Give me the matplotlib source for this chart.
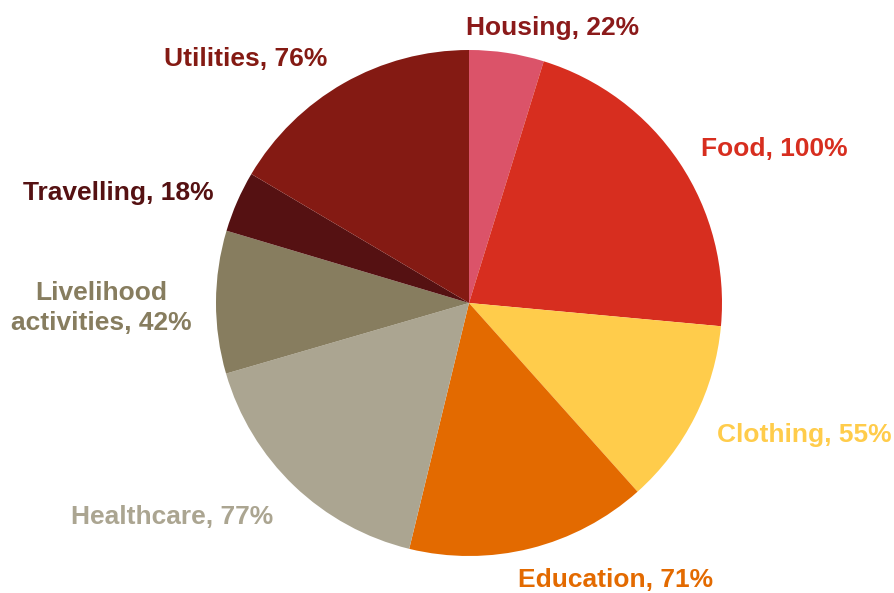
import numpy as np
import matplotlib
matplotlib.use("Agg")
import matplotlib.pyplot as plt
from matplotlib import rcParams

rcParams['font.family'] = ['Liberation Sans', 'DejaVu Sans']
rcParams['font.weight'] = 'bold'

categories = ['Housing', 'Food', 'Clothing', 'Education', 'Healthcare',
              'Livelihood\nactivities', 'Travelling', 'Utilities']
values = [22, 100, 55, 71, 77, 42, 18, 76]
colors = ['#DB5369', '#D72E1F', '#FFCC4B', '#E36A00', '#ABA591',
          '#877D5F', '#551112', '#841A13']
label_colors = ['#8B1A1A', '#D72E1F', '#FFCC4B', '#E36A00', '#ABA591',
                '#877D5F', '#551112', '#841A13']

# label centres in pixels of the original picture
label_px = [(553, 28), (774, 149), (804, 435), (616, 580), (172, 517),
            (101, 308), (118, 193), (246, 59)]

W, H = 894, 593
cx, cy, r = 469, 303, 253

fig = plt.figure(figsize=(W / 100, H / 100), dpi=100)
ax = fig.add_axes([(cx - r) / W, (H - cy - r) / H, 2 * r / W, 2 * r / H])
ax.pie(values, colors=colors, startangle=90, counterclock=False,
       wedgeprops=dict(linewidth=0))
ax.set_xlim(-1, 1)
ax.set_ylim(-1, 1)
ax.set_aspect('equal')
ax.axis('off')

for cat, v, col, (px, py) in zip(categories, values, label_colors, label_px):
    ax.text((px - cx) / r, (cy - py) / r, f"{cat}, {v}%", color=col,
            fontsize=19, fontweight='bold', ha='center', va='center',
            linespacing=1.28, clip_on=False)

fig.savefig('out.png', dpi=100)
